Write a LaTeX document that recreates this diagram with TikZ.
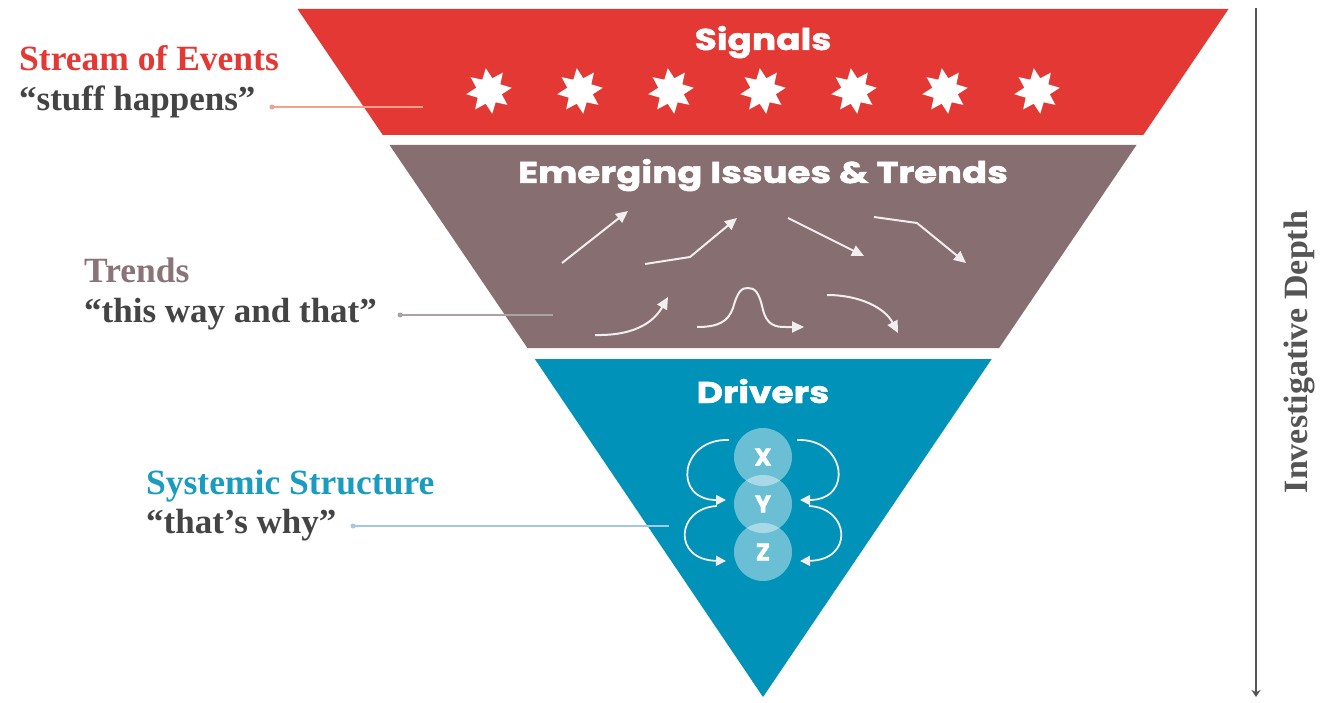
\documentclass[tikz,border=0pt]{standalone}
\usepackage{fontspec}
\setmainfont{Liberation Serif}
\newfontfamily\titlefont{Poppins}[BoldFeatures={FakeBold=1.6}]
\usetikzlibrary{shapes.geometric,arrows.meta}
\definecolor{sigred}{HTML}{E43834}
\definecolor{trbrown}{HTML}{866E71}
\definecolor{drteal}{HTML}{0092B8}
\definecolor{darktext}{HTML}{444444}
\definecolor{trlabel}{HTML}{8A7478}
\definecolor{sslabel}{HTML}{1A9CC0}
\definecolor{leadred}{HTML}{F4A08C}
\definecolor{leadgray}{HTML}{ABA2A2}
\definecolor{leadblue}{HTML}{A3C8E0}
\definecolor{axisgray}{HTML}{555555}
\definecolor{arrowwhite}{HTML}{F2EEEE}
\begin{document}
\begin{tikzpicture}[x=1pt,y=-1pt,
  bandtitle/.style={text=white,font=\titlefont\bfseries\fontsize{30}{34}\selectfont,anchor=base,inner sep=0,xscale=1.2},
  headlabel/.style={anchor=base west,inner sep=0,font=\bfseries\fontsize{35.5}{40}\selectfont},
  quotelabel/.style={anchor=base west,inner sep=0,text=darktext,font=\bfseries\fontsize{35}{40}\selectfont},
  leaddot/.style={circle,inner sep=0,minimum size=5pt},
  signalstar/.style={star,star points=8,star point ratio=1.75,fill=white,draw=none,inner sep=0,minimum size=46pt,rotate=8},
  trendarrow/.style={draw=arrowwhite,line width=2pt,-{Triangle[length=12pt,width=11pt]}},
  loopback/.style={draw=arrowwhite,line width=1.8pt,-{Triangle[length=10pt,width=10pt]}},
  xyz/.style={circle,fill=white,fill opacity=0.42,text opacity=1,text=white,minimum size=58pt,inner sep=0,font=\titlefont\bfseries\fontsize{24}{26}\selectfont},
]
\useasboundingbox (0,0) rectangle (1322,703);
\fill[white] (0,0) rectangle (1322,703);
% bands
\fill[sigred] (297.5,9) -- (1228.5,9) -- (1143.3,135) -- (382.8,135) -- cycle;
\fill[trbrown] (389.5,145) -- (1136.5,145) -- (999.1,348) -- (527.4,348) -- cycle;
\fill[drteal] (534.8,359) -- (991.7,359) -- (763,697) -- cycle;
% titles
\node[bandtitle] (tsig) at (763,50) {Signals};
\node[bandtitle,xscale=1.03] (temg) at (763,183) {Emerging Issues \& Trends};
\node[bandtitle] (tdrv) at (763,403) {Drivers};
% stars
\foreach \i/\xx in {1/489,2/580,3/671,4/763,5/854,6/945,7/1037}{
  \node[signalstar] (star\i) at (\xx,91) {};
}
% trend arrows
\draw[trendarrow] (562,263) -- (628,211);
\draw[trendarrow] (645,264) -- (690,257) -- (737,218);
\draw[trendarrow] (788,218) -- (864,256);
\draw[trendarrow] (874,217) -- (917,223) -- (966,263);
\draw[trendarrow] (595,335) .. controls (640,336) and (656,318) .. (668,297);
\draw[trendarrow] (697,327) .. controls (718,327) and (728,322) .. (733,308)
   .. controls (738,290) and (742,288) .. (748,288)
   .. controls (755,288) and (759,292) .. (763,310)
   .. controls (767,325) and (775,327) .. (785,327) -- (804,327);
\draw[trendarrow] (827,295) .. controls (860,295) and (885,308) .. (898,333);
% drivers circles
\node[xyz] (cx) at (763,457) {X};
\node[xyz] (cy) at (763,504) {Y};
\node[xyz] (cz) at (763,552) {Z};
\draw[loopback] (729,440) .. controls (680,438) and (672,500) .. (726,500);
\draw[loopback] (717,506) .. controls (676,508) and (672,560) .. (726,561);
\draw[loopback] (797,440) .. controls (846,438) and (854,500) .. (800,500);
\draw[loopback] (809,506) .. controls (850,508) and (854,560) .. (800,561);
% left labels
\node[headlabel,text=sigred] (soe) at (19,71) {Stream of Events};
\node[quotelabel] (stuff) at (19,111) {“stuff happens”};
\node[headlabel,text=trlabel] (trl) at (84,283) {Trends};
\node[quotelabel] (thisway) at (84,323) {“this way and that”};
\node[headlabel,text=sslabel] (ssl) at (146,494) {Systemic Structure};
\node[quotelabel] (why) at (146,533) {“that’s why”};
% leaders
\node[leaddot,fill=leadred] (d1) at (272,107) {};
\coordinate (e1) at (423,107);
\draw[leadred,line width=1.2pt] (d1.center) -- (e1);
\node[leaddot,fill=leadgray] (d2) at (400,315) {};
\coordinate (e2) at (553,315);
\draw[leadgray,line width=1.2pt] (d2.center) -- (e2);
\node[leaddot,fill=leadblue] (d3) at (353,526) {};
\coordinate (e3) at (669,526);
\draw[leadblue,line width=1.2pt] (d3.center) -- (e3);
% axis
\coordinate (axtop) at (1256,8);
\coordinate (axbot) at (1256,697);
\draw[axisgray,line width=1.5pt,-{Stealth[length=7pt,width=9pt]}] (axtop) -- (axbot);
\node[rotate=90,inner sep=0,text=axisgray,font=\bfseries\fontsize{34}{38}\selectfont] (axlab) at (1299,352) {Investigative Depth};
\end{tikzpicture}
\end{document}
